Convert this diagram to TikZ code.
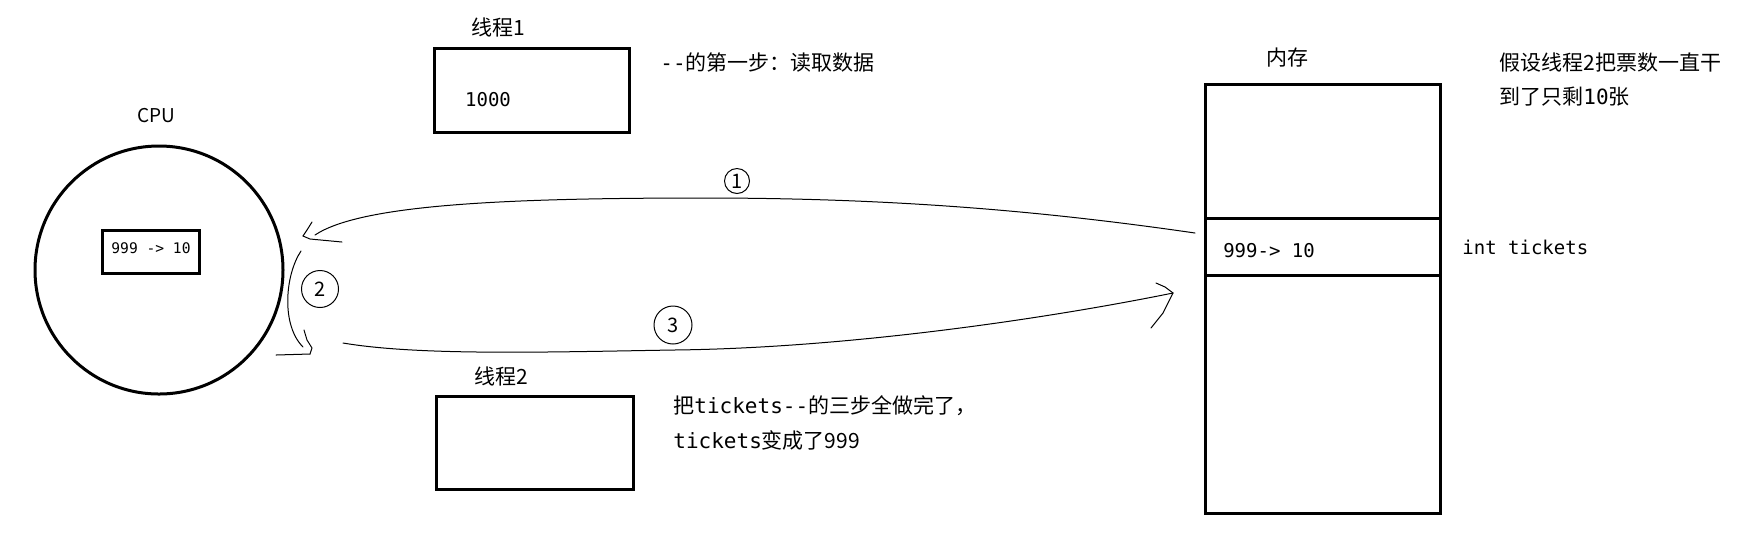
\documentclass[tikz,border=0pt]{standalone}
\usepackage{fontspec}
\setmainfont{Noto Sans CJK SC}
\setmonofont{DejaVu Sans Mono}
\usetikzlibrary{positioning}

\begin{document}
\begin{tikzpicture}[x=0.5pt, y=0.5pt,
  box/.style={draw, line width=1.5pt, inner sep=0pt},
  lbl/.style={font=\fontsize{10.5}{12}\selectfont, inner sep=0pt},
  code/.style={font=\ttfamily\fontsize{9.5}{11}\selectfont, inner sep=0pt},
  pen/.style={line width=0.5pt, line cap=round, line join=round},
  stepmark/.style={draw, circle, line width=0.5pt, inner sep=0pt, font=\fontsize{10}{10}\selectfont}
]
\useasboundingbox (0,0) rectangle (1764,-543);

% CPU
\node[box, circle, minimum size=124pt] (cpu) at (159,-270) {};
\node[lbl, font=\fontsize{9.5}{11}\selectfont] (cpuname) at (156,-116) {CPU};
\node[box, minimum width=48.5pt, minimum height=21.5pt] (reg) at (150.5,-251.5) {};
\node[code, font=\ttfamily\fontsize{7.3}{9}\selectfont] (regval) at (151,-248) {999 -> 10};

% threads
\node[box, minimum width=97.5pt, minimum height=42pt] (t1) at (531.5,-90) {};
\node[lbl] (t1name) at (498,-27) {线程1};
\node[code] (t1val) at (488,-100) {1000};
\node[lbl, anchor=west] (t1note) at (660,-63) {\texttt{--}的第一步：读取数据};

\node[box, minimum width=98.5pt, minimum height=46.5pt] (t2) at (534.5,-442.5) {};
\node[lbl] (t2name) at (501,-376) {线程2};
\node[lbl, anchor=west] (t2note) at (673,-406) {把\texttt{tickets--}的三步全做完了，};
\node[lbl, anchor=west] (t2more) at (673,-440) {\texttt{tickets}变成了999};

% memory
\node[box, minimum width=117.5pt, minimum height=214.5pt] (mem) at (1322.5,-298.5) {};
\node[lbl] (memname) at (1287,-58) {内存};
\node[box, minimum width=117.5pt, minimum height=28.5pt] (cell) at (1322.5,-246.5) {};
\node[code] (cellval) at (1269,-251) {999-> 10};
\node[code, anchor=west] (cellname) at (1462,-247) {int tickets};
\node[lbl, anchor=west] (memnote) at (1499,-63) {假设线程2把票数一直干};
\node[lbl, anchor=west] (memnote2) at (1499,-97) {到了只剩\texttt{10}张};

% step 1: read from memory
\coordinate (upin) at (1195,-233);
\coordinate (upmid) at (704,-198);
\coordinate (upend) at (315,-235);
\coordinate (uptip) at (303,-236);
\draw[pen] (upin) .. controls (1050,-212) and (900,-198) .. (upmid)
  .. controls (500,-198) and (360,-205) .. (upend);
\draw[pen] (uptip) -- ++(4,6) -- ++(5,8);
\draw[pen] (uptip) -- ++(7,-3) -- ++(32,-3);
\node[stepmark, minimum size=12.5pt] (n1) at (737,-181) {1};

% step 2: compute
\coordinate (arctop) at (301,-251);
\coordinate (arcbot) at (303,-347);
\coordinate (arctip) at (310,-354);
\draw[pen] (arctop) .. controls (285,-275) and (281,-325) .. (arcbot);
\draw[pen] (arctip) -- ++(-34,-1);
\draw[pen] (arctip) -- ++(2,6) -- ++(-5,8) -- ++(-3,10);
\node[stepmark, minimum size=18.5pt] (n2) at (320,-289) {2};

% step 3: write back
\coordinate (lowstart) at (343,-343);
\coordinate (lowmid) at (674,-350);
\coordinate (lowtip) at (1173,-293);
\draw[pen] (lowstart) .. controls (420,-356) and (550,-352) .. (lowmid)
  .. controls (850,-348) and (1050,-318) .. (lowtip);
\draw[pen] (lowtip) -- ++(-8,6) -- ++(-9,4);
\draw[pen] (lowtip) -- ++(-10,-20) -- ++(-12,-15);
\node[stepmark, minimum size=19pt] (n3) at (673,-325) {3};
\end{tikzpicture}
\end{document}
